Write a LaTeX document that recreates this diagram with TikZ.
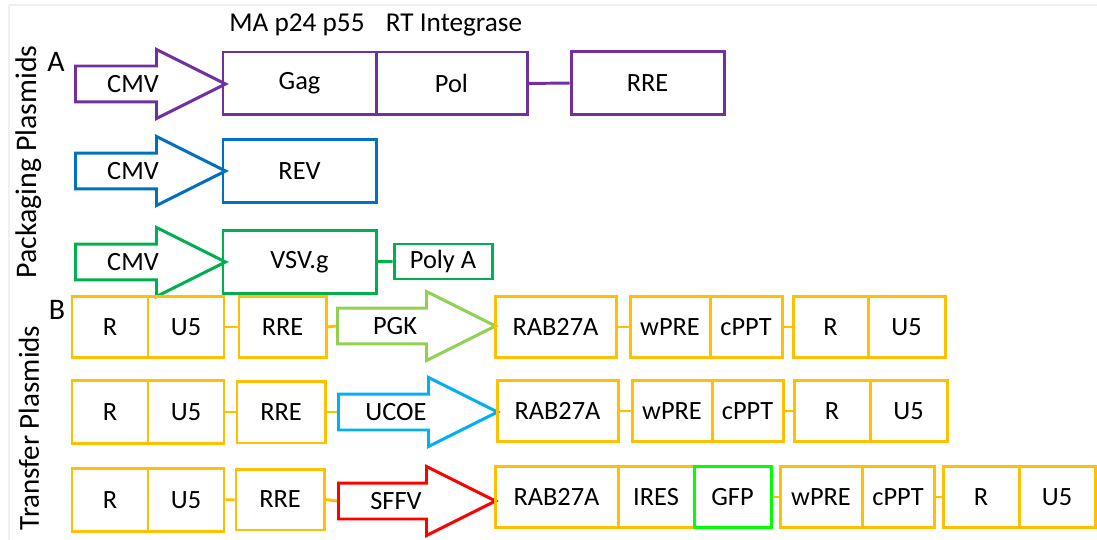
\documentclass[tikz,border=0pt]{standalone}
\usepackage{fontspec}
\setmainfont{Carlito}
\usepackage{xcolor}
\usetikzlibrary{shapes.arrows,positioning}

\definecolor{gagpurple}{HTML}{7030A0}
\definecolor{revblue}{HTML}{0070C0}
\definecolor{vsvgreen}{HTML}{00B050}
\definecolor{ltrorange}{HTML}{FFC000}
\definecolor{pgkgreen}{HTML}{92D050}
\definecolor{ucoeblue}{HTML}{00B0F0}
\definecolor{sffvred}{HTML}{FF0000}
\definecolor{gfpgreen}{HTML}{00FF00}

\begin{document}
\begin{tikzpicture}[x=0.02cm, y=-0.02cm,
    every node/.style={font=\fontsize{15}{18}\selectfont},
    gene/.style={draw=#1, line width=1.7pt, rectangle, inner sep=0pt, minimum height=1.26cm},
    gw/.style={minimum width=#1*0.02cm},
    promoter/.style={single arrow, draw=#1, line width=1.7pt, inner xsep=0pt, inner ysep=0.33cm,
        minimum height=3cm, single arrow head extend=0.33cm,
        single arrow tip angle=53.13, anchor=tail},
    prolabel/.style={label={[anchor=center, xshift=1.18cm]tail:#1}},
    link/.style={draw=#1, line width=1.7pt}]
            \useasboundingbox (0,0) rectangle (1097,540);
            % faint frame
            \draw[gray!12, line width=0.6pt] (9,5) -- (1097,5);
            \draw[gray!12, line width=0.6pt] (9,5) -- (9,540);

            % A: Packaging plasmids
            \node[rotate=90, font=\fontsize{17}{20}\selectfont] (packlbl) at (29,162) {Packaging Plasmids};
            \node[font=\fontsize{17}{20}\selectfont] (lblA) at (56,62) {A};
            \node[font=\fontsize{15.5}{18}\selectfont] (gaglbl) at (297,25) {MA p24 p55};
            \node[font=\fontsize{15.5}{18}\selectfont] (pollbl) at (454,25) {RT Integrase};

            % Gag-Pol plasmid
            \node[promoter=gagpurple, prolabel=CMV] (cmvA) at (74,84) {};
            \node[gene=gagpurple, gw=153] (gag) at (299.5,83.5) {Gag};
            \node[gene=gagpurple, gw=151] (pol) at (451.5,83.5) {Pol};
            \node[gene=gagpurple, gw=153] (rreA) at (647.5,83) {RRE};
            \draw[link=gagpurple] (pol) -- (rreA);

            % REV plasmid
            \node[promoter=revblue, prolabel=CMV] (cmvB) at (74,171) {};
            \node[gene=revblue, gw=153] (rev) at (299.5,171) {REV};

            % VSV.g plasmid
            \node[promoter=vsvgreen, prolabel=CMV] (cmvC) at (74,262) {};
            \node[gene=vsvgreen, gw=153] (vsv) at (299.5,262) {VSV.g};
            \node[gene=vsvgreen, gw=98, minimum height=0.7cm] (polya) at (443,261.5) {Poly A};
            \draw[link=vsvgreen] (vsv) -- (polya);

            % B: Transfer plasmids
            \node[rotate=90, font=\fontsize{16.5}{20}\selectfont] (translbl) at (29,428) {Transfer Plasmids};
            \node[font=\fontsize{17}{20}\selectfont] (lblB) at (57,310) {B};

            % PGK transfer plasmid
            \node[gene=ltrorange, gw=76, minimum height=1.22cm] (r1) at (110,327) {R};
            \node[gene=ltrorange, gw=76, minimum height=1.22cm] (u1) at (186,327) {U5};
            \node[gene=ltrorange, gw=87, minimum height=1.22cm] (rre1) at (282.5,327) {RRE};
            \node[promoter=pgkgreen, minimum height=3.16cm, prolabel=PGK] (pgk) at (336,326) {};
            \node[gene=ltrorange, gw=121, minimum height=1.22cm] (rab1) at (555.5,327) {RAB27A};
            \node[gene=ltrorange, gw=80, minimum height=1.22cm] (wpre1) at (670,327) {wPRE};
            \node[gene=ltrorange, gw=72, minimum height=1.22cm] (cppt1) at (746,327) {cPPT};
            \node[gene=ltrorange, gw=75, minimum height=1.22cm] (r1b) at (830.5,327) {R};
            \node[gene=ltrorange, gw=77, minimum height=1.22cm] (u1b) at (906.5,327) {U5};
            \draw[link=ltrorange] (u1) -- (rre1);
            \draw[link=ltrorange] (rre1.east) -- (pgk.tail);
            \draw[link=ltrorange] (rab1) -- (wpre1);
            \draw[link=ltrorange] (cppt1) -- (r1b);

            % UCOE transfer plasmid
            \node[gene=ltrorange, gw=76, minimum height=1.26cm] (r2) at (110,412) {R};
            \node[gene=ltrorange, gw=76, minimum height=1.26cm] (u2) at (186,412) {U5};
            \node[gene=ltrorange, gw=88, minimum height=1.24cm] (rre2) at (281,412) {RRE};
            \node[promoter=ucoeblue, minimum height=3.18cm, prolabel=UCOE] (ucoe) at (337,412) {};
            \node[gene=ltrorange, gw=121, minimum height=1.22cm] (rab2) at (557.5,411) {RAB27A};
            \node[gene=ltrorange, gw=80, minimum height=1.22cm] (wpre2) at (672,411) {wPRE};
            \node[gene=ltrorange, gw=71, minimum height=1.22cm] (cppt2) at (747.5,411) {cPPT};
            \node[gene=ltrorange, gw=76, minimum height=1.22cm] (r2b) at (832,411) {R};
            \node[gene=ltrorange, gw=77, minimum height=1.22cm] (u2b) at (908.5,411) {U5};
            \draw[link=ltrorange] (u2) -- (rre2);
            \draw[link=ltrorange] (rre2.east) -- (ucoe.tail);
            \draw[link=ltrorange] (rab2) -- (wpre2);
            \draw[link=ltrorange] (cppt2) -- (r2b);

            % SFFV transfer plasmid
            \node[gene=ltrorange, gw=76, minimum height=1.26cm] (r3) at (110,500) {R};
            \node[gene=ltrorange, gw=76, minimum height=1.26cm] (u3) at (186,500) {U5};
            \node[gene=ltrorange, gw=88, minimum height=1.22cm] (rre3) at (280,499.5) {RRE};
            \node[promoter=sffvred, minimum height=3.14cm, prolabel=SFFV] (sffv) at (337,501) {};
            \node[gene=ltrorange, gw=123, minimum height=1.22cm] (rab3) at (556.5,497) {RAB27A};
            \node[gene=ltrorange, gw=76, minimum height=1.22cm] (ires) at (656,497) {IRES};
            \node[gene=ltrorange, gw=82, minimum height=1.22cm] (wpre3) at (821,497) {wPRE};
            \node[gene=ltrorange, gw=72, minimum height=1.22cm] (cppt3) at (898,497) {cPPT};
            \node[gene=ltrorange, gw=76, minimum height=1.22cm] (r3b) at (981,497) {R};
            \node[gene=ltrorange, gw=76, minimum height=1.22cm] (u3b) at (1057,497) {U5};
            \node[gene=gfpgreen, gw=77, minimum height=1.22cm] (gfp) at (732.5,497) {GFP};
            \draw[link=ltrorange] (u3) -- (rre3);
            \draw[link=ltrorange] (rre3.east) -- (sffv.tail);
            \draw[link=ltrorange] (gfp) -- (wpre3);
            \draw[link=ltrorange] (cppt3) -- (r3b);

        \end{tikzpicture}
\end{document}
